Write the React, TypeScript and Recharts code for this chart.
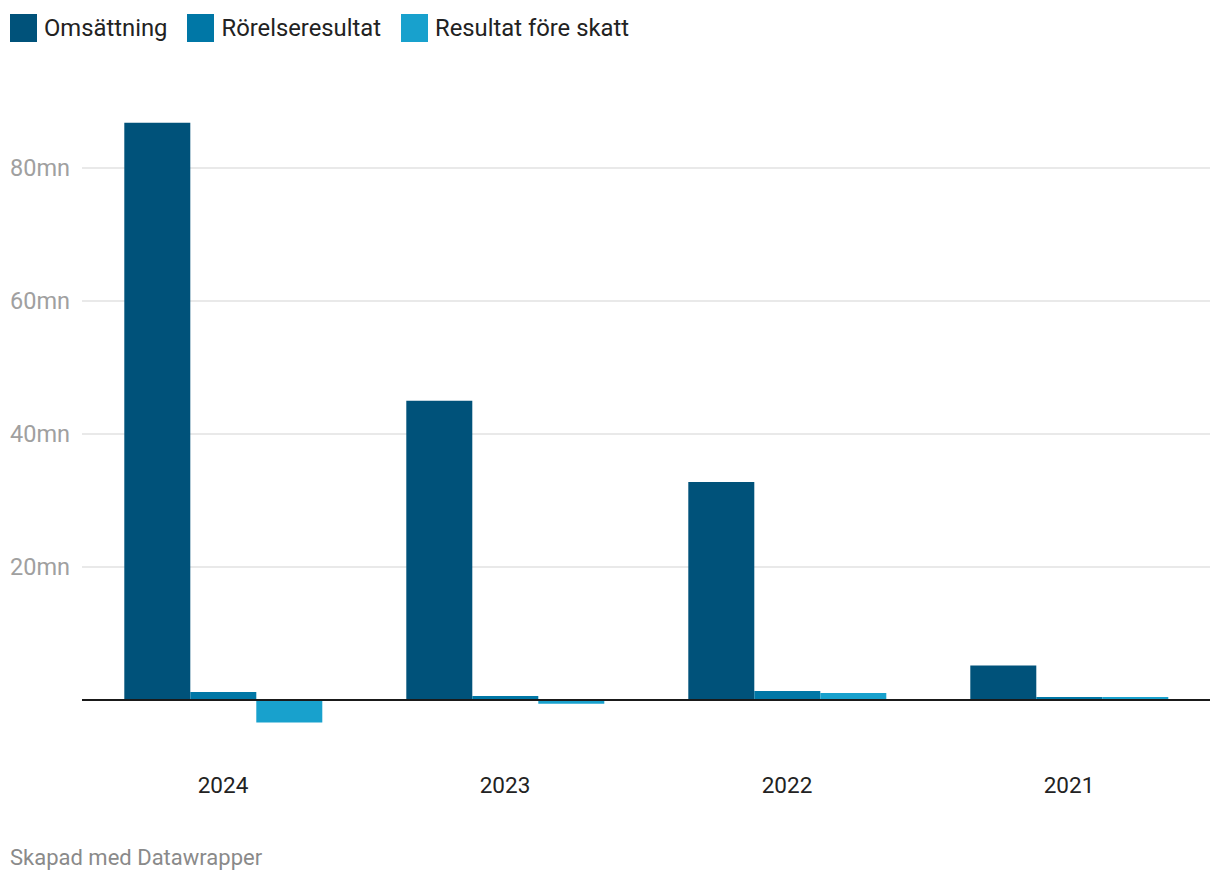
import React from "react";
import { BarChart, Bar, XAxis, YAxis, CartesianGrid, ReferenceLine } from "recharts";

const years = ["2024", "2023", "2022", "2021"];
const omsattning = [86.8, 45.0, 32.8, 5.2];
const rorelseresultat = [1.2, 0.6, 1.35, 0.45];
const resultatForeSkatt = [-3.4, -0.55, 1.05, 0.45];
const yTicks = [20, 40, 60, 80];

const seriesNames = ["Omsättning", "Rörelseresultat", "Resultat före skatt"];
const seriesKeys = ["oms", "ror", "res"];
const colors = ["#00527a", "#0077a6", "#18a1cd"];

const data = years.map((y, i) => ({
  year: y,
  oms: omsattning[i],
  ror: rorelseresultat[i],
  res: resultatForeSkatt[i],
}));

const FONT = "Roboto, 'Noto Sans', sans-serif";

const YTick = (props: any) => {
  const { y, payload } = props;
  return (
    <text x={10} y={y} dominantBaseline="central" textAnchor="start" fill="#a0a0a0" fontSize={23.5} fontFamily={FONT}>
      {payload.value}mn
    </text>
  );
};

const XTick = (props: any) => {
  const { x, y, payload } = props;
  return (
    <text x={x} y={y + 50} dominantBaseline="central" textAnchor="middle" fill="#222" fontSize={22.5} fontFamily={FONT}>
      {payload.value}
    </text>
  );
};

export default function App() {
  return (
    <div style={{ position: "absolute", left: 0, top: 0, width: 1220, height: 882, background: "#fff", fontFamily: FONT }}>
      <div style={{ position: "absolute", left: 10, top: 14, display: "flex", alignItems: "center", fontSize: 23.8, color: "#222" }}>
        {seriesNames.map((n, i) => (
          <div key={n} style={{ display: "flex", alignItems: "center", marginRight: 20 }}>
            <div style={{ width: 27, height: 28, background: colors[i], marginRight: 7 }} />
            <span>{n}</span>
          </div>
        ))}
      </div>
      <div style={{ position: "absolute", left: 0, top: 0 }}>
        <BarChart
          width={1220}
          height={882}
          data={data}
          margin={{ top: 101.5, right: 10, bottom: 108.75, left: 0 }}
          barCategoryGap="15%"
          barGap={0}
        >
          <CartesianGrid horizontal={true} vertical={false} horizontalValues={yTicks} stroke="#e2e2e2" strokeWidth={1.5} />
          <YAxis
            type="number"
            domain={[-5, 90]}
            ticks={yTicks}
            width={82}
            axisLine={false}
            tickLine={false}
            tick={<YTick />}
            allowDataOverflow
          />
          <XAxis dataKey="year" height={40} axisLine={false} tickLine={false} tick={<XTick />} tickSize={0} />
          {seriesKeys.map((k, i) => (
            <Bar key={k} dataKey={k} fill={colors[i]} isAnimationActive={false} />
          ))}
          <ReferenceLine y={0} stroke="#1a1a1a" strokeWidth={2} />
        </BarChart>
      </div>
      <div style={{ position: "absolute", left: 10, top: 845, fontSize: 22, color: "#8a8a8a" }}>
        Skapad med Datawrapper
      </div>
    </div>
  );
}
